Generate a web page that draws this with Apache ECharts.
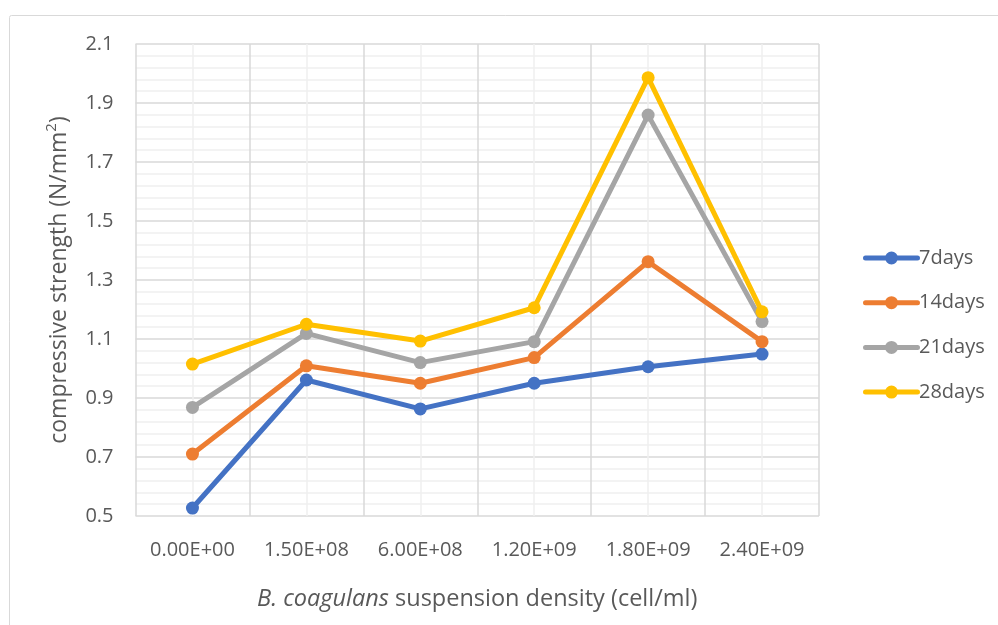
<!DOCTYPE html>
<html>
<head>
<meta charset="utf-8">
<script src="https://cdn.jsdelivr.net/npm/echarts@6/dist/echarts.min.js"></script>
<style>
  html, body { margin: 0; padding: 0; background: #fff; }
  #chart { width: 998px; height: 625px; }
</style>
</head>
<body>
<div id="chart"></div>
<script>
// Suspension densities (cell/ml) along the category axis
const densities = ['0.00E+00', '1.50E+08', '6.00E+08', '1.20E+09', '1.80E+09', '2.40E+09'];

// Compressive strength (N/mm²) by curing age
const days7  = [0.527, 0.961, 0.863, 0.950, 1.006, 1.049];
const days14 = [0.710, 1.009, 0.950, 1.037, 1.362, 1.091];
const days21 = [0.868, 1.119, 1.020, 1.091, 1.859, 1.159];
const days28 = [1.015, 1.150, 1.093, 1.206, 1.986, 1.192];

const seriesNames = ['7days', '14days', '21days', '28days'];
const seriesColors = ['#4472C4', '#ED7D31', '#A5A5A5', '#FFC000'];
const seriesData = [days7, days14, days21, days28];

const FONT = '"Open Sans", "Noto Sans", sans-serif';
const TEXT = '#595959';

// Legend key: a thick line with a round marker in its middle
const LEGEND_ICON = 'path://M2.5,4 H54.5 A2.5,2.5 0 0,1 54.5,9 H2.5 A2.5,2.5 0 0,1 2.5,4 Z ' +
  'M22,6.5 A6.5,6.5 0 1,1 35,6.5 A6.5,6.5 0 1,1 22,6.5 Z';

const chart = echarts.init(document.getElementById('chart'), null, { renderer: 'canvas' });

const option = {
  backgroundColor: '#ffffff',
  animation: false,
  textStyle: { fontFamily: FONT, color: TEXT },
  grid: { left: 135.5, right: 179, top: 44, bottom: 109, containLabel: false },
  graphic: [{
    type: 'rect',
    shape: { x: 9.5, y: 15.5, width: 1000, height: 700, r: 2 },
    style: { fill: 'none', stroke: '#D9D9D9', lineWidth: 1 },
    silent: true,
    z: -10
  }],
  legend: {
    orient: 'vertical',
    left: 858,
    top: 243,
    itemWidth: 57,
    itemHeight: 13,
    itemGap: 24.7,
    icon: LEGEND_ICON,
    itemStyle: { borderWidth: 0 },
    textStyle: { fontFamily: FONT, fontSize: 20, color: TEXT, padding: [0, 0, 0, -6] },
    data: seriesNames
  },
  xAxis: [{
    type: 'category',
    data: densities,
    boundaryGap: true,
    axisLine: { show: false },
    axisTick: { show: false },
    splitLine: { show: false },
    axisLabel: { fontFamily: FONT, fontSize: 20, color: TEXT, margin: 24 },
    name: '{i|B. coagulans} suspension density (cell/ml)',
    nameLocation: 'middle',
    nameGap: 71,
    nameTextStyle: {
      fontFamily: FONT, fontSize: 23.5, color: TEXT,
      rich: { i: { fontFamily: FONT, fontSize: 23.5, color: TEXT, fontStyle: 'italic' } }
    }
  }, {
    // gridlines only: boundaries between categories and their centres
    type: 'value',
    min: 0,
    max: 6,
    interval: 0.5,
    position: 'bottom',
    axisLine: { show: false },
    axisTick: { show: false },
    axisLabel: { show: false },
    splitLine: { show: true, lineStyle: { color: ['#D9D9D9', '#EFEFEF'], width: 1.5 } }
  }],
  yAxis: {
    type: 'value',
    min: 0.5,
    max: 2.1,
    interval: 0.2,
    axisLine: { show: false },
    axisTick: { show: false },
    axisLabel: {
      fontFamily: FONT, fontSize: 20, color: TEXT, margin: 22,
      formatter: v => (Math.round(v * 10) / 10).toFixed(1)
    },
    splitLine: { show: true, lineStyle: { color: '#D9D9D9', width: 1.5 } },
    minorTick: { show: false, splitNumber: 5 },
    minorSplitLine: { show: true, lineStyle: { color: '#EFEFEF', width: 1.5 } },
    name: 'compressive strength (N/mm{sup|2})',
    nameLocation: 'middle',
    nameGap: 57,
    nameTextStyle: {
      fontFamily: FONT, fontSize: 23, color: TEXT, lineHeight: 30,
      rich: { sup: { fontFamily: FONT, fontSize: 15, color: TEXT, verticalAlign: 'top', lineHeight: 22 } }
    }
  },
  series: seriesNames.map((name, i) => ({
    name: name,
    type: 'line',
    xAxisIndex: 0,
    data: seriesData[i],
    symbol: 'circle',
    symbolSize: 13,
    color: seriesColors[i],
    lineStyle: { width: 5, color: seriesColors[i], cap: 'round', join: 'round' },
    itemStyle: { color: seriesColors[i] },
    z: 2 + i
  }))
};

chart.setOption(option);
</script>
</body>
</html>
